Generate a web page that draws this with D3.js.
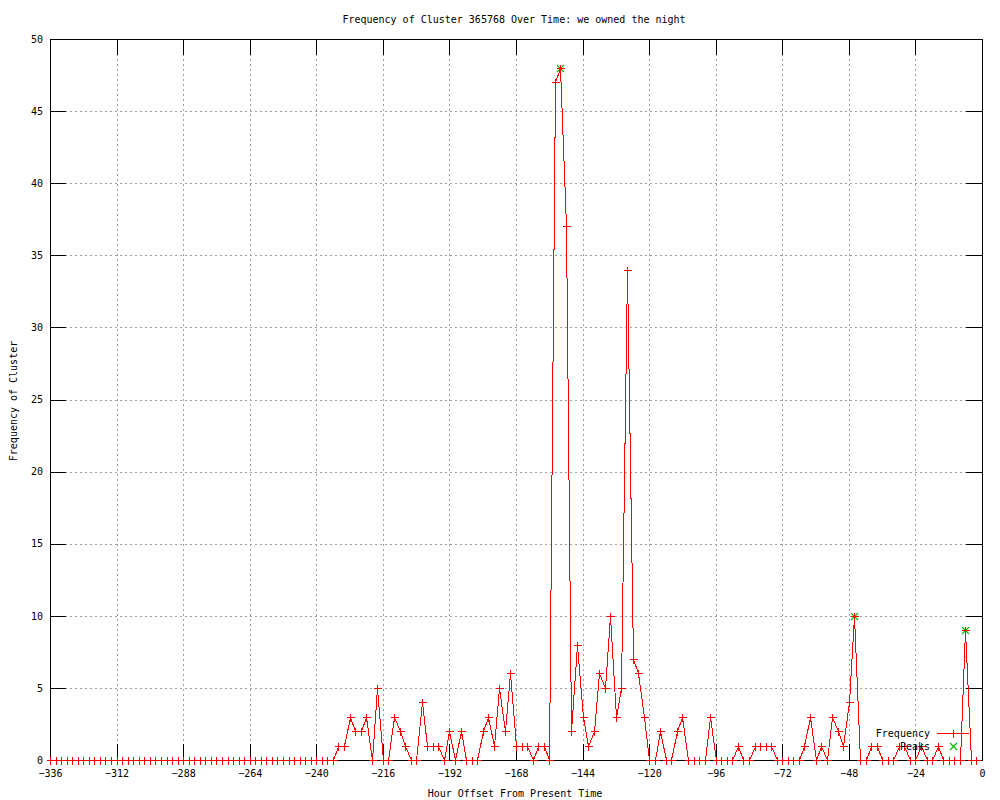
<!DOCTYPE html>
<html>
<head>
<meta charset="utf-8">
<script src="https://cdn.jsdelivr.net/npm/d3@7"></script>
<style>
	body { margin: 0; background: #fff; }
	svg text { font-family: "DejaVu Sans Mono", "Liberation Mono", monospace; font-size: 10px; fill: #000; }
</style>
</head>
<body>
<svg id="chart" width="1000" height="800"></svg>
<script>

// hour offsets, one sample every 2 hours
var hours = [
	-336, -334, -332, -330, -328, -326, -324, -322, -320, -318, -316, -314,
	-312, -310, -308, -306, -304, -302, -300, -298, -296, -294, -292, -290,
	-288, -286, -284, -282, -280, -278, -276, -274, -272, -270, -268, -266,
	-264, -262, -260, -258, -256, -254, -252, -250, -248, -246, -244, -242,
	-240, -238, -236, -234, -232, -230, -228, -226, -224, -222, -220, -218,
	-216, -214, -212, -210, -208, -206, -204, -202, -200, -198, -196, -194,
	-192, -190, -188, -186, -184, -182, -180, -178, -176, -174, -172, -170,
	-168, -166, -164, -162, -160, -158, -156, -154, -152, -150, -148, -146,
	-144, -142, -140, -138, -136, -134, -132, -130, -128, -126, -124, -122,
	-120, -118, -116, -114, -112, -110, -108, -106, -104, -102, -100, -98,
	-96, -94, -92, -90, -88, -86, -84, -82, -80, -78, -76, -74,
	-72, -70, -68, -66, -64, -62, -60, -58, -56, -54, -52, -50,
	-48, -46, -44, -42, -40, -38, -36, -34, -32, -30, -28, -26,
	-24, -22, -20, -18, -16, -14, -12, -10, -8, -6, -4, -2
];

var frequency = [
	0, 0, 0, 0, 0, 0, 0, 0, 0, 0, 0, 0,
	0, 0, 0, 0, 0, 0, 0, 0, 0, 0, 0, 0,
	0, 0, 0, 0, 0, 0, 0, 0, 0, 0, 0, 0,
	0, 0, 0, 0, 0, 0, 0, 0, 0, 0, 0, 0,
	0, 0, 0, 0, 1, 1, 3, 2, 2, 3, 0, 5,
	0, 0, 3, 2, 1, 0, 0, 4, 1, 1, 1, 0,
	2, 0, 2, 0, 0, 0, 2, 3, 1, 5, 2, 6,
	1, 1, 1, 0, 1, 1, 0, 47, 48, 37, 2, 8,
	3, 1, 2, 6, 5, 10, 3, 5, 34, 7, 6, 3,
	0, 0, 2, 0, 0, 2, 3, 0, 0, 0, 0, 3,
	0, 0, 0, 0, 1, 0, 0, 1, 1, 1, 1, 0,
	0, 0, 0, 0, 1, 3, 0, 1, 0, 3, 2, 1,
	4, 10, 0, 0, 1, 1, 0, 0, 0, 1, 1, 0,
	0, 1, 0, 0, 1, 0, 0, 0, 0, 9, 0, 0
];

var peakHours = [-152, -46, -6];
var peakValues = [48, 10, 9];

var xTicks = [-336, -312, -288, -264, -240, -216, -192, -168, -144, -120, -96, -72, -48, -24, 0];
var yTicks = [0, 5, 10, 15, 20, 25, 30, 35, 40, 45, 50];

var plotLeft = 50, plotRight = 982, plotTop = 39, plotBottom = 760;
var tickLen = 16;
var cross = 4;

var svg = d3.select('#chart');
var g = svg.append('g');

var x = d3.scaleLinear().domain([-336, 0]).range([plotLeft, plotRight]);
var y = d3.scaleLinear().domain([0, 50]).range([plotBottom, plotTop]);

// grid
g.selectAll('.gx')
	.data(xTicks.slice(1, -1))
	.enter().append('line')
	.attr('x1', function(d) { return Math.round(x(d)) + 0.5; })
	.attr('x2', function(d) { return Math.round(x(d)) + 0.5; })
	.attr('y1', plotTop)
	.attr('y2', plotBottom)
	.attr('stroke', '#a0a0a0')
	.attr('stroke-width', 1)
	.style('stroke-dasharray', '2,3')
	.attr('shape-rendering', 'crispEdges');

g.selectAll('.gy')
	.data(yTicks.slice(1, -1))
	.enter().append('line')
	.attr('x1', plotLeft)
	.attr('x2', plotRight)
	.attr('y1', function(d) { return Math.round(y(d)) + 0.5; })
	.attr('y2', function(d) { return Math.round(y(d)) + 0.5; })
	.attr('stroke', '#a0a0a0')
	.attr('stroke-width', 1)
	.style('stroke-dasharray', '2,3')
	.attr('shape-rendering', 'crispEdges');

// axes, mirrored on all four sides like gnuplot
var xAxisB = d3.axisBottom(x).tickValues(xTicks).tickSizeInner(-tickLen).tickSizeOuter(0).tickPadding(10);
var xAxisT = d3.axisTop(x).tickValues(xTicks).tickSizeInner(-tickLen).tickSizeOuter(0).tickFormat('');
var yAxisL = d3.axisLeft(y).tickValues(yTicks).tickSizeInner(-tickLen).tickSizeOuter(0).tickPadding(7);
var yAxisR = d3.axisRight(y).tickValues(yTicks).tickSizeInner(-tickLen).tickSizeOuter(0).tickFormat('');

function styleAxis(sel) {
	sel.select('.domain').remove();
	sel.selectAll('line').attr('stroke', '#000').attr('shape-rendering', 'crispEdges');
	sel.selectAll('text').attr('font-family', null).attr('font-size', null);
}

g.append('g').attr('transform', 'translate(0,' + plotBottom + ')').call(xAxisB).call(styleAxis);
g.append('g').attr('transform', 'translate(0,' + plotTop + ')').call(xAxisT).call(styleAxis);
g.append('g').attr('transform', 'translate(' + plotLeft + ',0)').call(yAxisL).call(styleAxis);
g.append('g').attr('transform', 'translate(' + plotRight + ',0)').call(yAxisR).call(styleAxis);

g.append('rect')
	.attr('x', plotLeft + 0.5)
	.attr('y', plotTop + 0.5)
	.attr('width', plotRight - plotLeft)
	.attr('height', plotBottom - plotTop)
	.style('fill', 'none')
	.attr('stroke', '#000')
	.attr('stroke-width', 1)
	.attr('shape-rendering', 'crispEdges');

// titles
g.append('text')
	.attr('x', 514)
	.attr('y', 23)
	.attr('text-anchor', 'middle')
	.text('Frequency of Cluster 365768 Over Time: we owned the night');

g.append('text')
	.attr('x', 515)
	.attr('y', 797)
	.attr('text-anchor', 'middle')
	.text('Hour Offset From Present Time');

g.append('text')
	.attr('transform', 'translate(17,401) rotate(-90)')
	.attr('text-anchor', 'middle')
	.text('Frequency of Cluster');

// frequency line
var points = hours.map(function(h, i) { return [h, frequency[i]]; });

var line = d3.line()
	.x(function(d) { return Math.round(x(d[0])) + 0.5; })
	.y(function(d) { return Math.round(y(d[1])) + 0.5; });

g.append('path')
	.datum(points)
	.attr('d', line)
	.style('fill', 'none')
	.attr('stroke', '#ff0000')
	.attr('stroke-width', 1)
	.attr('shape-rendering', 'crispEdges');

function plus(sel, cx, cy, color) {
	cx = Math.round(cx) + 0.5;
	cy = Math.round(cy) + 0.5;
	sel.append('path')
		.attr('d', 'M' + (cx - cross) + ',' + cy + 'H' + (cx + cross) + 'M' + cx + ',' + (cy - cross) + 'V' + (cy + cross))
		.attr('stroke', color)
		.attr('stroke-width', 1)
		.attr('shape-rendering', 'crispEdges')
		.style('fill', 'none');
}

function xMark(sel, cx, cy, color) {
	var c = cross - 0.5;
	cx = Math.round(cx) + 0.5;
	cy = Math.round(cy) + 0.5;
	sel.append('path')
		.attr('d', 'M' + (cx - c) + ',' + (cy - c) + 'L' + (cx + c) + ',' + (cy + c) + 'M' + (cx - c) + ',' + (cy + c) + 'L' + (cx + c) + ',' + (cy - c))
		.attr('stroke', color)
		.attr('stroke-width', 1.2)
		.style('fill', 'none');
}

// peaks (green x)
var peaks = g.append('g');
peakHours.forEach(function(h, i) {
	xMark(peaks, x(h), y(peakValues[i]), '#00c000');
});

// frequency points (red +)
var marks = g.append('g');
points.forEach(function(d) {
	plus(marks, x(d[0]), y(d[1]), '#ff0000');
});

// legend
var lg = g.append('g');
lg.append('text')
	.attr('x', 930)
	.attr('y', 737)
	.attr('text-anchor', 'end')
	.text('Frequency');
lg.append('path')
	.attr('d', 'M937,733.5H969')
	.attr('stroke', '#ff0000')
	.attr('stroke-width', 1)
	.attr('shape-rendering', 'crispEdges');
plus(lg, 953, 733, '#ff0000');

lg.append('text')
	.attr('x', 930)
	.attr('y', 750)
	.attr('text-anchor', 'end')
	.text('Peaks');
xMark(lg, 953, 746, '#00c000');

</script>
</body>
</html>
